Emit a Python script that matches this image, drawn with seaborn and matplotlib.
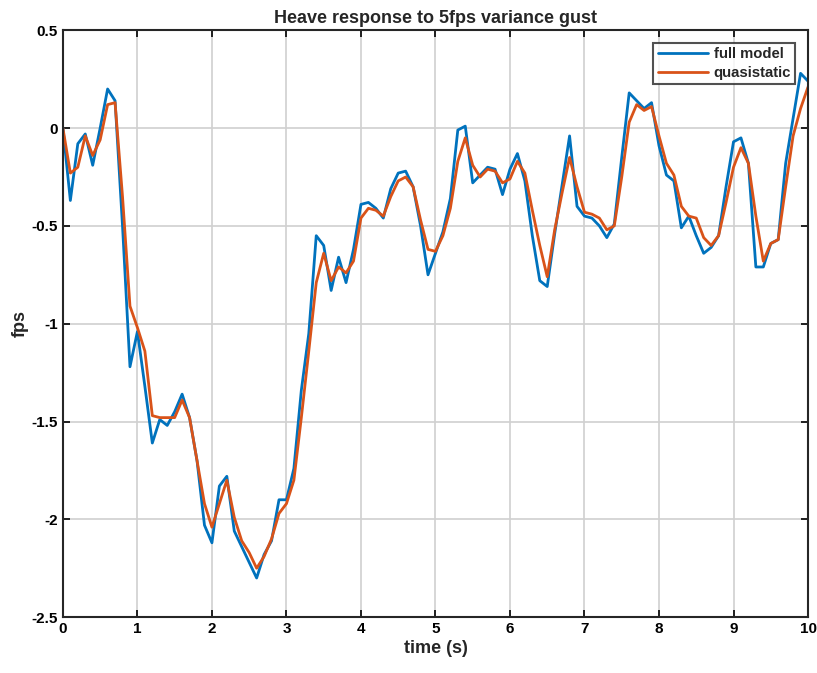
import matplotlib
matplotlib.use("Agg")
import matplotlib.pyplot as plt
import numpy as np
import pandas as pd
import seaborn as sns

# time axis, sampled every 0.1 s
time_s = [round(0.1 * i, 1) for i in range(101)]

full_model = [
    0.00, -0.37, -0.08, -0.03, -0.19, 0.00, 0.20, 0.14, -0.50, -1.22,
    -1.04, -1.32, -1.61, -1.49, -1.52, -1.45, -1.36, -1.48, -1.70, -2.03,
    -2.12, -1.83, -1.78, -2.06, -2.14, -2.22, -2.30, -2.18, -2.11, -1.90,
    -1.90, -1.74, -1.34, -1.05, -0.55, -0.60, -0.83, -0.66, -0.79, -0.62,
    -0.39, -0.38, -0.41, -0.46, -0.31, -0.23, -0.22, -0.30, -0.50, -0.75,
    -0.64, -0.53, -0.36, -0.01, 0.01, -0.28, -0.24, -0.20, -0.21, -0.34,
    -0.21, -0.13, -0.27, -0.55, -0.78, -0.81, -0.54, -0.29, -0.04, -0.40,
    -0.45, -0.46, -0.50, -0.56, -0.49, -0.15, 0.18, 0.14, 0.10, 0.13,
    -0.09, -0.24, -0.27, -0.51, -0.45, -0.55, -0.64, -0.61, -0.55, -0.30,
    -0.07, -0.05, -0.18, -0.71, -0.71, -0.59, -0.57, -0.18, 0.05, 0.28,
    0.24,
]

quasistatic = [
    0.00, -0.23, -0.20, -0.04, -0.14, -0.06, 0.12, 0.13, -0.35, -0.91,
    -1.02, -1.14, -1.47, -1.48, -1.48, -1.48, -1.39, -1.48, -1.70, -1.92,
    -2.04, -1.92, -1.80, -1.99, -2.11, -2.17, -2.25, -2.19, -2.10, -1.97,
    -1.92, -1.80, -1.48, -1.14, -0.79, -0.64, -0.78, -0.71, -0.74, -0.68,
    -0.46, -0.41, -0.42, -0.45, -0.35, -0.27, -0.25, -0.30, -0.47, -0.62,
    -0.63, -0.55, -0.41, -0.17, -0.05, -0.19, -0.25, -0.21, -0.22, -0.28,
    -0.26, -0.17, -0.23, -0.42, -0.60, -0.76, -0.52, -0.33, -0.15, -0.30,
    -0.43, -0.44, -0.46, -0.52, -0.50, -0.25, 0.03, 0.12, 0.09, 0.11,
    -0.04, -0.18, -0.24, -0.40, -0.45, -0.46, -0.56, -0.60, -0.55, -0.38,
    -0.20, -0.10, -0.18, -0.45, -0.68, -0.59, -0.57, -0.30, -0.04, 0.10,
    0.21,
]

series_names = ["full model", "quasistatic"]
colors = ["#0072BD", "#D95319"]

df = pd.DataFrame({
    "time": time_s * 2,
    "value": full_model + quasistatic,
    "series": [series_names[0]] * len(time_s) + [series_names[1]] * len(time_s),
})

sns.set_style("ticks")
plt.rcParams["font.family"] = ["Liberation Sans", "DejaVu Sans"]
plt.rcParams["font.weight"] = "bold"

fig = plt.figure(figsize=(8.17, 6.73), dpi=100)
ax = fig.add_axes([0.077, 0.083, 0.912, 0.872])

sns.lineplot(data=df, x="time", y="value", hue="series",
             palette=dict(zip(series_names, colors)), linewidth=2.0,
             ax=ax)

ax.set_xlim(0, 10)
ax.set_ylim(-2.5, 0.5)
ax.set_xticks(range(0, 11))
ax.set_yticks([0.5, 0, -0.5, -1, -1.5, -2, -2.5])
ax.set_yticklabels(["0.5", "0", "-0.5", "-1", "-1.5", "-2", "-2.5"])
ax.grid(True, color="#d0d0d0", linewidth=1.2)
ax.set_axisbelow(True)
ax.tick_params(direction="in", top=True, right=True, length=5, width=1.2,
               labelsize=11, colors="black")
for lab in ax.get_xticklabels() + ax.get_yticklabels():
    lab.set_fontweight("bold")
for sp in ax.spines.values():
    sp.set_linewidth(1.5)
    sp.set_color("#262626")

ax.set_xlabel("time (s)", fontsize=13, fontweight="bold", labelpad=3)
ax.set_ylabel("fps", fontsize=13, fontweight="bold", labelpad=2)
ax.set_title("Heave response to 5fps variance gust", fontsize=13,
             fontweight="bold", pad=5)

leg = ax.legend(loc="upper right", fontsize=10.7, frameon=True, fancybox=False,
                handlelength=3.4, borderaxespad=0.85, borderpad=0.3,
                labelspacing=0.3, handletextpad=0.35)
leg.get_frame().set_edgecolor("#262626")
leg.get_frame().set_linewidth(1.5)
for t in leg.get_texts():
    t.set_fontweight("bold")

fig.savefig("out.png", dpi=100)
